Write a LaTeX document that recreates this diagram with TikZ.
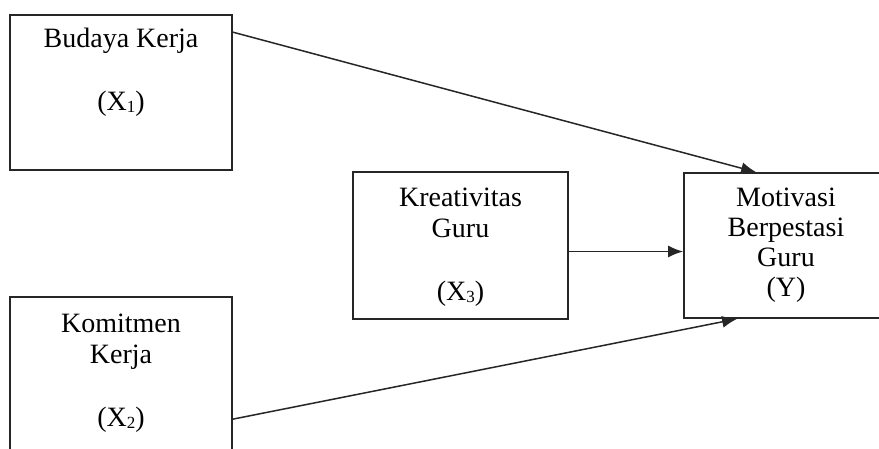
\documentclass[tikz,border=0pt]{standalone}
\usepackage{fontspec}
\setmainfont{Liberation Serif}
\usetikzlibrary{arrows.meta}
\tikzstyle{kotak}=[draw=black!85,line width=1.7pt,inner sep=0pt]
\tikzstyle{teks}=[anchor=north,align=center,inner sep=0pt,font=\fontsize{28}{31.5}\selectfont]
\tikzstyle{panah}=[draw=black!85,line width=1.5pt,-{Latex[length=15pt,width=12pt]}]
\newcommand{\idx}[1]{\raisebox{-.15ex}{\fontsize{17}{17}\selectfont #1}}

\begin{document}
\begin{tikzpicture}[x=1pt,y=-1pt]
\useasboundingbox (0,0) rectangle (879,448);
\clip (0,0) rectangle (879,448);
% kotak variabel
\node[kotak,minimum width=222pt,minimum height=155pt] (budaya) at (121,92.5) {};
\node[kotak,minimum width=222pt,minimum height=173pt] (komitmen) at (121,383.5) {};
\node[kotak,minimum width=215pt,minimum height=147pt] (kreatif) at (460.5,245.5) {};
\node[kotak,minimum width=204pt,minimum height=145pt] (motiv) at (786,245.5) {};
% teks
\node[teks] (tbudaya) at ([yshift=-11pt]budaya.north) {\strut Budaya Kerja\\[31.5pt](X\idx{1})};
\node[teks] (tkomitmen) at ([yshift=-14pt]komitmen.north) {\strut Komitmen\\Kerja\\[31.5pt](X\idx{2})};
\node[teks] (tkreatif) at ([yshift=-13pt]kreatif.north) {\strut Kreativitas\\Guru\\[31.5pt](X\idx{3})};
\node[teks,font=\fontsize{28}{30}\selectfont] (tmotiv) at ([yshift=-13pt]motiv.north) {\strut Motivasi\\Berpestasi\\Guru\\(Y)};
% panah
\draw[panah] ([yshift=-18pt]budaya.north east) -- ([xshift=73pt]motiv.north west);
\draw[panah] ([yshift=-6pt]kreatif.east) -- ([yshift=-6pt]motiv.west);
\draw[panah] ([yshift=-123pt]komitmen.north east) -- ([xshift=54pt]motiv.south west);
\end{tikzpicture}
\end{document}
